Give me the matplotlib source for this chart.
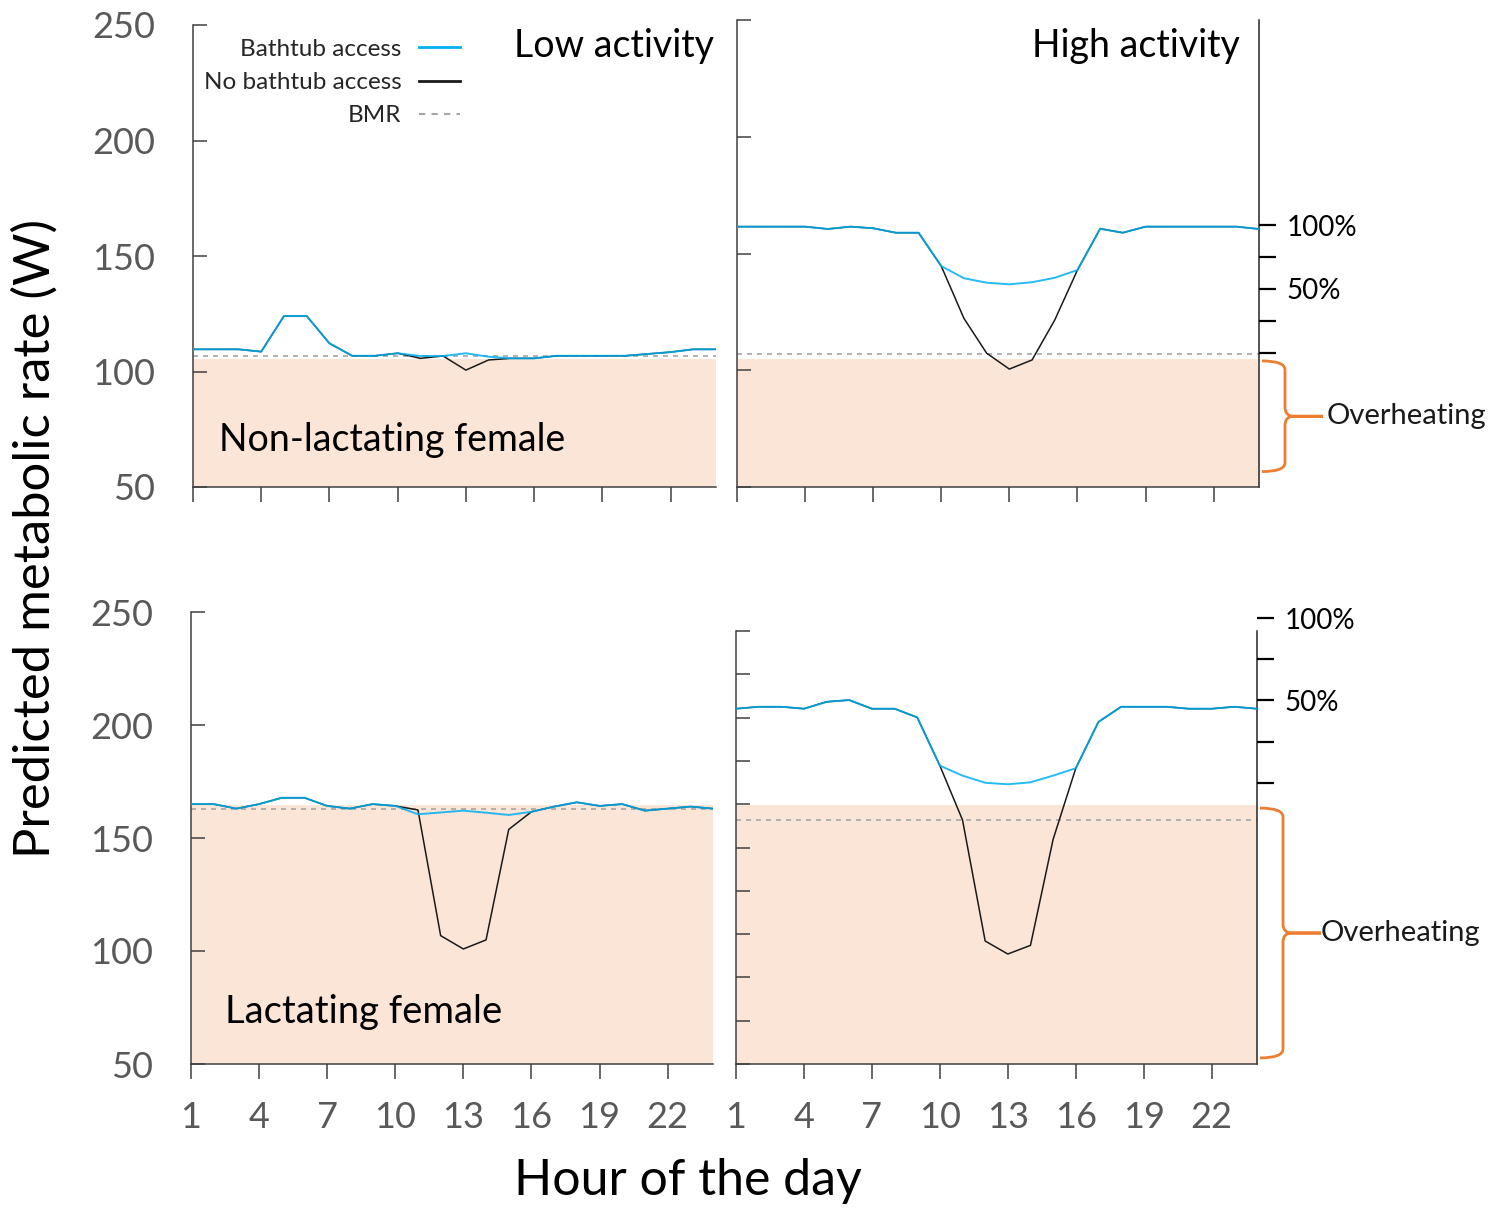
import matplotlib
matplotlib.use("Agg")
import matplotlib.pyplot as plt
import matplotlib.transforms as mtransforms
from matplotlib.path import Path
from matplotlib.patches import PathPatch
import numpy as np

plt.rcParams['font.family'] = ['Lato', 'DejaVu Sans']

# hour of the day
hours = np.arange(1, 25)
hour_ticks = [1, 4, 7, 10, 13, 16, 19, 22]

# non-lactating female (W)
nl_low_bath = [109.6, 109.6, 109.6, 108.6, 124.0, 124.0, 112.2, 106.8, 106.8, 107.9, 106.7, 106.7,
               107.9, 106.4, 105.7, 105.7, 106.8, 106.8, 106.8, 106.8, 107.6, 108.4, 109.6, 109.6]
nl_low_nobath = [109.6, 109.6, 109.6, 108.6, 124.0, 124.0, 112.2, 106.8, 106.8, 107.9, 105.7, 106.7,
                 100.6, 105.0, 105.7, 105.7, 106.8, 106.8, 106.8, 106.8, 107.6, 108.4, 109.6, 109.6]
nl_high_bath = [161.5, 161.5, 161.5, 161.5, 160.5, 161.5, 160.8, 158.9, 158.9, 144.6, 139.4, 137.5,
                136.8, 137.7, 139.6, 142.9, 160.6, 158.9, 161.5, 161.5, 161.5, 161.5, 161.5, 160.5]
nl_high_nobath = [161.5, 161.5, 161.5, 161.5, 160.5, 161.5, 160.8, 158.9, 158.9, 144.6, 122.2, 107.3,
                  100.5, 104.4, 121.5, 142.9, 160.6, 158.9, 161.5, 161.5, 161.5, 161.5, 161.5, 160.5]
nl_bmr = 106.8

# lactating female (W)
la_low_bath = [165.0, 165.0, 163.0, 165.0, 167.8, 167.8, 164.2, 163.0, 165.0, 164.2, 160.5, 161.3,
               162.1, 161.2, 160.2, 161.6, 163.9, 165.8, 164.2, 165.0, 162.1, 163.0, 163.9, 163.0]
la_low_nobath = [165.0, 165.0, 163.0, 165.0, 167.8, 167.8, 164.2, 163.0, 165.0, 164.2, 162.4, 106.8,
                 100.9, 104.9, 153.8, 161.6, 163.9, 165.8, 164.2, 165.0, 162.1, 163.0, 163.9, 163.0]
la_high_bath = [214.1, 215.0, 215.0, 214.1, 217.3, 218.1, 214.1, 214.1, 210.1, 187.8, 183.2, 179.9,
                179.2, 180.1, 183.2, 186.6, 208.0, 215.0, 215.0, 215.0, 214.1, 214.1, 215.0, 214.1]
la_high_nobath = [214.1, 215.0, 215.0, 214.1, 217.3, 218.1, 214.1, 214.1, 210.1, 187.8, 162.7, 106.8,
                  100.8, 104.8, 153.8, 186.6, 208.0, 215.0, 215.0, 215.0, 214.1, 214.1, 215.0, 214.1]
la_bmr = 162.7

# overheating zone tops per panel (TL, TR, BL, BR)
overheat_top = [105.3, 104.8, 164.8, 169.6]
# brace extents on the right panels (top, bottom)
brace_nl = (104.0, 56.6)
brace_la = (168.2, 52.8)
# percentage scale: W value at 0 % and 100 %
pct_nl = (107.4, 162.2)
pct_la = (179.9, 255.9)
pct_ticks = [0, 25, 50, 75, 100]
pct_labels = ['', '', '50%', '', '100%']

BLUE = '#00B0F0'
SHADE = '#FBE5D6'
ORANGE = '#ED7D31'
GREY = '#595959'

FIG_W, FIG_H = 1501, 1217
fig = plt.figure(figsize=(FIG_W / 100, FIG_H / 100), dpi=100)


def px_rect(x0, y0, x1, y1):
    return [x0 / FIG_W, 1 - y1 / FIG_H, (x1 - x0) / FIG_W, (y1 - y0) / FIG_H]


def make_panel(rect, bath, nobath, bmr, shade, ystep, left_labels, bottom_labels):
    ax = fig.add_axes(rect)
    ax.patch.set_alpha(0)
    ax.axhspan(50, shade, color=SHADE, lw=0, zorder=0)
    ax.axhline(bmr, color='#A6A6A6', lw=1.2, ls=(0, (3, 3)), zorder=1)
    l_nb, = ax.plot(hours, nobath, color='#1a1a1a', lw=1.1, zorder=2)
    l_b, = ax.plot(hours, bath, color=BLUE, lw=1.4, alpha=0.85, zorder=3)
    ax.set_xlim(1, 24)
    ax.set_ylim(50, 250)
    ax.set_xticks(hour_ticks)
    ax.set_yticks(np.arange(50, 251, ystep))
    for s in ['top', 'right']:
        ax.spines[s].set_visible(False)
    for s in ['left', 'bottom']:
        ax.spines[s].set_color('#404040')
        ax.spines[s].set_linewidth(1.1)
    ax.tick_params(axis='x', direction='out', length=11, width=1.1, color='#404040',
                   labelsize=26, labelcolor=GREY, pad=16, labelbottom=bottom_labels)
    ax.tick_params(axis='y', direction='in', length=10, width=1.1, color='#404040',
                   labelsize=26, labelcolor=GREY, pad=27, labelleft=left_labels)
    return ax, l_b, l_nb


def pct_axis(ax, zero, full):
    bb = ax.get_position()
    extra = 40 / FIG_H
    pax = fig.add_axes([bb.x0, bb.y0, bb.width, bb.height + extra])
    pax.patch.set_alpha(0)
    y0, y1 = ax.get_ylim()
    w_per_fig = (y1 - y0) / bb.height
    pax.set_ylim(y0, y1 + extra * w_per_fig)
    pax.set_xlim(ax.get_xlim())
    for s in pax.spines.values():
        s.set_visible(False)
    pax.set_xticks([])
    pax.yaxis.tick_right()
    pax.set_yticks([zero + (full - zero) * p / 100 for p in pct_ticks])
    pax.set_yticklabels(pct_labels)
    pax.tick_params(axis='y', direction='out', length=12, width=1.6, color='black',
                    labelsize=20, labelcolor='black', pad=8)
    ax.spines['right'].set_visible(True)
    ax.spines['right'].set_color('#262626')
    ax.spines['right'].set_linewidth(1.1)
    return pax


def brace(ax, y_top, y_bot, label, text_gap):
    trans = mtransforms.blended_transform_factory(ax.transAxes, ax.transData)
    bb = ax.get_position()
    w_px = bb.width * FIG_W
    h_px = bb.height * FIG_H
    y0, y1 = ax.get_ylim()
    ry = 9 / (h_px / (y1 - y0))
    rx = 9 / w_px
    xs = 1 + 3 / w_px
    xv = 1 + 26 / w_px
    xt = 1 + 64 / w_px
    ym = (y_top + y_bot) / 2
    verts = [(xs, y_top), (xv, y_top), (xv, y_top - ry),
             (xv, ym + ry), (xv, ym), (xv + rx, ym),
             (xt, ym), (xv + rx, ym),
             (xv, ym), (xv, ym - ry),
             (xv, y_bot + ry), (xv, y_bot), (xs, y_bot)]
    codes = [Path.MOVETO, Path.CURVE3, Path.CURVE3,
             Path.LINETO, Path.CURVE3, Path.CURVE3,
             Path.LINETO, Path.LINETO,
             Path.CURVE3, Path.CURVE3,
             Path.LINETO, Path.CURVE3, Path.CURVE3]
    patch = PathPatch(Path(verts, codes), transform=trans, fill=False,
                      edgecolor=ORANGE, lw=2, clip_on=False)
    ax.add_patch(patch)
    ax.text(xt + text_gap / w_px, ym, label, transform=trans, ha='left', va='center',
            fontsize=21, color='#1a1a1a', clip_on=False)


ax_tl, line_b, line_nb = make_panel(px_rect(193, 25, 716, 487), nl_low_bath, nl_low_nobath,
                                    nl_bmr, overheat_top[0], 50, True, False)
ax_tr, _, _ = make_panel(px_rect(737, 20, 1259, 487), nl_high_bath, nl_high_nobath,
                         nl_bmr, overheat_top[1], 50, False, False)
ax_bl, _, _ = make_panel(px_rect(191, 612, 713, 1064), la_low_bath, la_low_nobath,
                         la_bmr, overheat_top[2], 50, True, True)
ax_br, _, _ = make_panel(px_rect(736, 631, 1257, 1064), la_high_bath, la_high_nobath,
                         la_bmr, overheat_top[3], 20, False, True)

pct_axis(ax_tr, *pct_nl)
pct_axis(ax_br, *pct_la)

brace(ax_tr, brace_nl[0], brace_nl[1], 'Overheating', 4)
brace(ax_br, brace_la[0], brace_la[1], 'Overheating', 0)

# panel titles and group labels
ax_tl.text(0.996, 0.955, 'Low activity', transform=ax_tl.transAxes, ha='right', va='center',
           fontsize=27, color='black')
ax_tr.text(0.964, 0.944, 'High activity', transform=ax_tr.transAxes, ha='right', va='center',
           fontsize=27, color='black')
ax_tl.text(0.05, 0.102, 'Non-lactating female', transform=ax_tl.transAxes, ha='left', va='center',
           fontsize=27, color='black')
ax_bl.text(0.065, 0.115, 'Lactating female', transform=ax_bl.transAxes, ha='left', va='center',
           fontsize=27.5, color='black')

# legend
bmr_handle = plt.Line2D([], [], color='#A6A6A6', lw=1.5, ls=(0, (3, 3)))
blue_handle = plt.Line2D([], [], color=BLUE, lw=2)
black_handle = plt.Line2D([], [], color='#1a1a1a', lw=2)
leg = ax_tl.legend([blue_handle, black_handle, bmr_handle],
                   ['Bathtub access', 'No bathtub access', 'BMR'],
                   markerfirst=False, frameon=False, loc='upper right',
                   bbox_to_anchor=(0.5105, 0.970), fontsize=17.5, handlelength=1.7,
                   handletextpad=0.7, labelspacing=0.5, borderpad=0, borderaxespad=0)
for t in leg.get_texts():
    t.set_color('#262626')

fig.text(35 / FIG_W, 1 - 538 / FIG_H, 'Predicted metabolic rate (W)', rotation=90,
         ha='center', va='center', fontsize=36.5, color='black')
fig.text(688 / FIG_W, 1 - 1181 / FIG_H, 'Hour of the day', ha='center', va='center',
         fontsize=36, color='black')

fig.savefig('out.png', dpi=100)
